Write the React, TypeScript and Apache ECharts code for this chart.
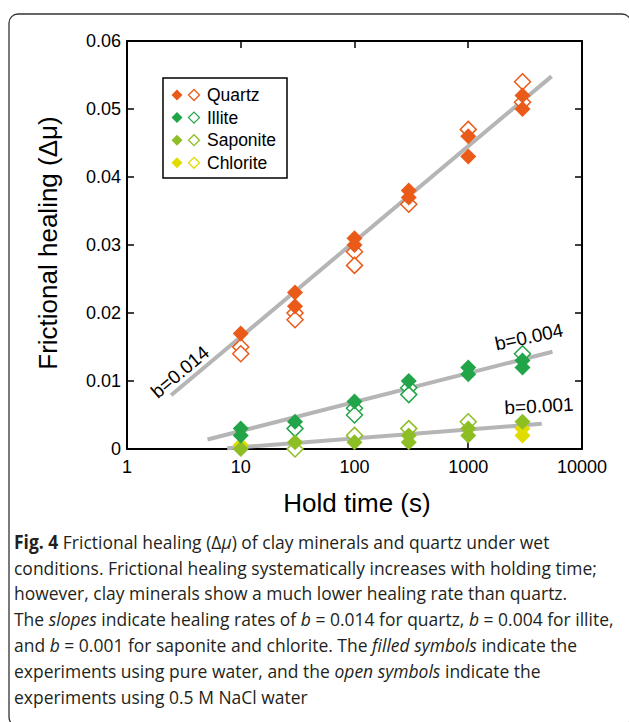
import React, { useEffect, useRef } from "react";
import * as echarts from "echarts";

// ---------- data ----------
const xTickLabels = ["1", "10", "100", "1000", "10000"];
const yTickLabels = ["0", "0.01", "0.02", "0.03", "0.04", "0.05", "0.06"];

const quartzWater = [[10, 0.017], [30, 0.023], [30, 0.021], [100, 0.031], [100, 0.030], [300, 0.038], [300, 0.037], [1000, 0.046], [1000, 0.043], [3000, 0.052], [3000, 0.050]];
const quartzNaCl = [[10, 0.015], [10, 0.014], [30, 0.020], [30, 0.019], [100, 0.029], [100, 0.027], [300, 0.036], [1000, 0.047], [3000, 0.054], [3000, 0.051]];
const illiteWater = [[10, 0.003], [10, 0.002], [30, 0.004], [100, 0.007], [300, 0.010], [1000, 0.012], [1000, 0.011], [3000, 0.013], [3000, 0.012]];
const illiteNaCl = [[30, 0.003], [100, 0.006], [100, 0.005], [300, 0.009], [300, 0.008], [3000, 0.014]];
const saponiteWater = [[10, 0], [30, 0.001], [100, 0.001], [300, 0.002], [300, 0.001], [1000, 0.003], [1000, 0.002], [3000, 0.004]];
const saponiteNaCl = [[30, 0], [100, 0.002], [300, 0.003], [1000, 0.004]];
const chloriteWater = [[10, 0.0006], [3000, 0.003], [3000, 0.002]];
const chloriteNaCl: number[][] = [];

const fitQuartz = [[2.44, 0.0079], [5400, 0.0548]];
const fitIllite = [[5.1, 0.0014], [5500, 0.0143]];
const fitClay = [[7.6, 0.0001], [4430, 0.0037]];

const minerals = ["Quartz", "Illite", "Saponite", "Chlorite"];
const slopeLabels = ["b=0.014", "b=0.004", "b=0.001"];

const captionLines: [string, string][][] = [
  [["b", "Fig. 4"], ["n", " Frictional healing (Δ"], ["i", "μ"], ["n", ") of clay minerals and quartz under wet"]],
  [["n", "conditions. Frictional healing systematically increases with holding time;"]],
  [["n", "however, clay minerals show a much lower healing rate than quartz."]],
  [["n", "The "], ["i", "slopes"], ["n", " indicate healing rates of "], ["i", "b"], ["n", " = 0.014 for quartz, "], ["i", "b"], ["n", " = 0.004 for illite,"]],
  [["n", "and "], ["i", "b"], ["n", " = 0.001 for saponite and chlorite. The "], ["i", "filled symbols"], ["n", " indicate the"]],
  [["n", "experiments using pure water, and the "], ["i", "open symbols"], ["n", " indicate the"]],
  [["n", "experiments using 0.5 M NaCl water"]],
];

// ---------- styles ----------
const COLORS = ["#EA5A18", "#22A548", "#8DBE24", "#E0DC00"];
const AX_FONT = "Liberation Sans, Arial, Helvetica, sans-serif";
const CAP_FONT = "Open Sans, sans-serif";

export default function App() {
  const ref = useRef<HTMLDivElement>(null);
  useEffect(() => {
    document.body.style.margin = "0";
    document.body.style.overflow = "hidden";
    if (!ref.current) return;
    const chart = echarts.init(ref.current, undefined, { renderer: "svg" });

    const baseX = {
      type: "log" as const,
      logBase: 10,
      min: 1,
      max: 10000,
      axisLine: { onZero: false, lineStyle: { color: "#000", width: 2 } },
      axisTick: { inside: true, length: 7, lineStyle: { color: "#000", width: 1.5 } },
      minorTick: { show: false },
      splitLine: { show: false },
    };
    const baseY = {
      type: "value" as const,
      min: 0,
      max: 0.06,
      interval: 0.01,
      axisLine: { onZero: false, lineStyle: { color: "#000", width: 2 } },
      axisTick: { inside: true, length: 7, lineStyle: { color: "#000", width: 1.5 } },
      splitLine: { show: false },
    };

    const fitSeries = [fitQuartz, fitIllite, fitClay].map((d, i) => ({
      type: "line",
      name: "fit" + i,
      data: d,
      showSymbol: false,
      symbol: "none",
      lineStyle: { color: "#B5B5B5", width: 4 },
      z: 1,
      silent: true,
    }));

    const openSets = [quartzNaCl, illiteNaCl, saponiteNaCl, chloriteNaCl];
    const filledSets = [quartzWater, illiteWater, saponiteWater, chloriteWater];
    const openSeries = openSets.map((d, i) => ({
      type: "scatter",
      name: minerals[i] + " NaCl",
      data: d,
      symbol: "diamond",
      symbolSize: 16,
      itemStyle: { color: "#fff", borderColor: COLORS[i], borderWidth: 1.5, opacity: 1 },
      z: 2,
    }));
    const filledOrder = [3, 2, 1, 0];
    const filledSeries = filledOrder.map((i) => ({
      type: "scatter",
      name: minerals[i] + " water",
      data: filledSets[i],
      symbol: "diamond",
      symbolSize: 16,
      itemStyle: { color: COLORS[i], opacity: 1 },
      z: 3,
    }));

    // legend graphic
    const legendEls: any[] = [
      { type: "rect", shape: { x: 163, y: 78, width: 124, height: 100 }, style: { fill: "#fff", stroke: "#000", lineWidth: 1.5 }, z: 10 },
    ];
    const diamond = (cx: number, cy: number, r: number) => [[cx, cy - r], [cx + r, cy], [cx, cy + r], [cx - r, cy]];
    minerals.forEach((m, i) => {
      const cy = 95 + i * 22.6;
      legendEls.push({ type: "polygon", shape: { points: diamond(177, cy, 5.5) }, style: { fill: COLORS[i] }, z: 11 });
      legendEls.push({ type: "polygon", shape: { points: diamond(194, cy, 5.5) }, style: { fill: "#fff", stroke: COLORS[i], lineWidth: 1.3 }, z: 11 });
      legendEls.push({ type: "text", x: 207, y: cy, style: { text: m, fontSize: 17.5, fontFamily: AX_FONT, fill: "#000", verticalAlign: "middle", align: "left" }, z: 11 });
    });

    const slopeEls = [
      { x: 180, y: 372, r: 40 },
      { x: 529, y: 337, r: 12 },
      { x: 539, y: 406, r: 3 },
    ].map((p, i) => ({
      type: "text",
      x: p.x,
      y: p.y,
      rotation: (p.r * Math.PI) / 180,
      style: { text: slopeLabels[i], fontSize: 19, fontFamily: AX_FONT, fill: "#000", align: "center", verticalAlign: "middle" },
      z: 12,
    }));

    const CAP_SIZE = 19;
    const rich = {
      n: { fontFamily: CAP_FONT, fontSize: CAP_SIZE, fill: "#231F20" },
      b: { fontFamily: CAP_FONT, fontSize: CAP_SIZE, fontWeight: "bold", fill: "#231F20" },
      i: { fontFamily: CAP_FONT, fontSize: CAP_SIZE, fontStyle: "italic", fill: "#231F20" },
    };
    const captionEls = captionLines.map((segs, li) => ({
      type: "text",
      x: 14,
      y: 541 + li * 25.8,
      scaleX: 0.92,
      style: {
        text: segs.map(([k, t]) => `{${k}|${t}}`).join(""),
        rich,
        verticalAlign: "middle",
        align: "left",
        fontFamily: CAP_FONT,
        fontSize: CAP_SIZE,
      },
      z: 12,
    }));

    chart.setOption({
      animation: false,
      backgroundColor: "#fff",
      grid: { left: 127, right: 47, top: 41, bottom: 273, containLabel: false },
      xAxis: [
        {
          ...baseX,
          position: "bottom",
          axisLabel: { color: "#000", fontSize: 18, fontFamily: AX_FONT, margin: 9, formatter: (_v: number, idx: number) => xTickLabels[idx] ?? "" },
        },
        { ...baseX, position: "top", axisLabel: { show: false } },
      ],
      yAxis: [
        {
          ...baseY,
          position: "left",
          axisLabel: { color: "#000", fontSize: 18, fontFamily: AX_FONT, margin: 6, formatter: (_v: number, idx: number) => yTickLabels[idx] ?? "" },
        },
        { ...baseY, position: "right", axisLabel: { show: false } },
      ],
      series: [...fitSeries, ...openSeries, ...filledSeries],
      graphic: [
        { type: "rect", shape: { x: 9, y: 14, width: 622, height: 712, r: 9 }, style: { fill: "none", stroke: "#333", lineWidth: 1.3 }, z: 0, silent: true },
        { type: "text", x: 48, y: 243, rotation: Math.PI / 2, style: { text: "Frictional healing (Δμ)", fontSize: 26, fontFamily: AX_FONT, fill: "#000", align: "center", verticalAlign: "middle" } },
        { type: "text", x: 357, y: 503, style: { text: "Hold time (s)", fontSize: 26, fontFamily: AX_FONT, fill: "#000", align: "center", verticalAlign: "middle" } },
        ...legendEls,
        ...slopeEls,
        ...captionEls,
      ],
    });
    return () => chart.dispose();
  }, []);
  return <div ref={ref} style={{ width: 629, height: 722 }} />;
}
